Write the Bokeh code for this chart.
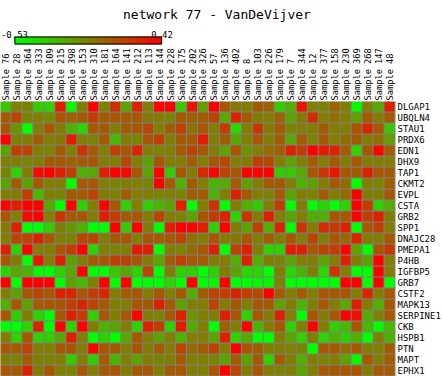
import numpy as np
from bokeh.plotting import figure
from bokeh.layouts import column
from bokeh.models import (FactorRange, LinearColorMapper, Range1d,
                          CategoricalAxis, ColumnDataSource)
from bokeh.core.properties import value
from bokeh.transform import dodge
from bokeh.embed import file_html
from bokeh.resources import INLINE

title_text = "network 77 - VanDeVijver"
vmin, vmax = -0.53, 0.42

samples = ["Sample 76", "Sample 28", "Sample 364", "Sample 333", "Sample 109", "Sample 215",
           "Sample 398", "Sample 153", "Sample 310", "Sample 181", "Sample 164", "Sample 141",
           "Sample 212", "Sample 113", "Sample 144", "Sample 228", "Sample 175", "Sample 202",
           "Sample 326", "Sample 57", "Sample 136", "Sample 402", "Sample 8", "Sample 103",
           "Sample 226", "Sample 179", "Sample 7", "Sample 344", "Sample 12", "Sample 377",
           "Sample 158", "Sample 230", "Sample 369", "Sample 268", "Sample 147", "Sample 48"]

genes = ["DLGAP1", "UBQLN4", "STAU1", "PRDX6", "EDN1", "DHX9", "TAP1", "CKMT2", "EVPL",
         "CSTA", "GRB2", "SPP1", "DNAJC28", "PMEPA1", "P4HB", "IGFBP5", "GRB7", "CSTF2",
         "MAPK13", "SERPINE1", "CKB", "HSPB1", "PTN", "MAPT", "EPHX1"]

values = [
    [-0.31, -0.05, -0.07, -0.34, -0.36, 0.32, -0.50, -0.05, 0.42, -0.07, 0.25, -0.19, 0.29, -0.05, 0.41, 0.42, -0.32, 0.34, -0.17, 0.42, 0.10, -0.03, -0.05, 0.08, 0.06, -0.34, -0.23, 0.34, -0.05, -0.07, 0.04, -0.05, -0.53, -0.05, -0.21, 0.30],
    [0.08, 0.17, -0.07, -0.05, -0.10, 0.10, 0.06, 0.08, 0.19, 0.08, 0.10, 0.08, 0.10, -0.03, -0.05, -0.07, 0.08, 0.06, 0.08, 0.17, -0.21, 0.29, 0.08, -0.03, -0.05, 0.06, -0.19, -0.03, 0.25, -0.05, 0.00, -0.05, -0.17, 0.08, -0.05, 0.10],
    [0.10, -0.14, -0.53, -0.05, 0.10, -0.05, -0.25, -0.38, 0.08, 0.08, -0.05, 0.08, 0.10, 0.15, -0.05, 0.08, 0.17, 0.00, 0.10, -0.05, 0.19, -0.38, -0.05, 0.21, -0.03, 0.08, -0.07, -0.05, -0.05, 0.08, -0.05, -0.05, 0.11, 0.29, 0.10, -0.32],
    [0.42, -0.07, -0.05, 0.08, -0.05, -0.03, 0.32, -0.05, -0.07, 0.08, -0.27, -0.05, -0.07, 0.10, 0.19, -0.05, 0.08, 0.10, 0.32, -0.05, 0.08, -0.19, -0.05, 0.10, -0.05, 0.08, -0.21, 0.08, -0.07, 0.08, -0.05, 0.02, 0.08, -0.05, 0.00, -0.17],
    [-0.19, 0.19, 0.17, -0.05, -0.07, 0.08, -0.05, 0.23, 0.08, -0.05, 0.19, 0.10, 0.29, -0.05, -0.07, -0.05, 0.08, 0.17, 0.10, -0.05, -0.19, 0.10, -0.12, -0.05, 0.02, 0.08, 0.30, 0.19, 0.42, 0.32, 0.29, 0.08, -0.36, 0.10, 0.41, 0.08],
    [-0.05, -0.05, -0.07, -0.05, 0.08, 0.08, 0.06, 0.08, 0.10, -0.05, -0.05, 0.15, -0.05, -0.19, 0.10, -0.05, -0.05, 0.08, -0.05, 0.10, 0.15, -0.05, -0.05, 0.19, 0.15, -0.05, -0.19, -0.05, 0.08, -0.05, 0.08, -0.05, 0.10, -0.05, -0.05, -0.05],
    [-0.07, -0.36, -0.05, 0.38, 0.42, 0.30, 0.19, -0.23, -0.21, 0.30, 0.42, 0.38, 0.10, -0.19, 0.42, -0.34, 0.10, -0.05, 0.27, 0.42, 0.17, 0.10, 0.42, 0.42, 0.41, -0.34, -0.32, -0.21, 0.10, 0.23, 0.34, 0.10, 0.08, 0.30, 0.10, 0.08],
    [-0.19, 0.08, -0.19, 0.08, -0.05, -0.05, -0.53, 0.08, 0.10, -0.05, -0.07, -0.05, -0.05, -0.07, 0.42, 0.08, -0.25, 0.08, -0.05, -0.25, -0.23, 0.08, -0.17, -0.05, 0.08, 0.10, -0.05, -0.25, -0.17, -0.05, 0.08, 0.02, -0.53, -0.05, -0.07, 0.08],
    [-0.05, -0.05, 0.19, -0.27, -0.05, -0.07, 0.08, 0.08, 0.17, -0.05, -0.07, 0.08, -0.05, -0.05, -0.07, -0.05, -0.07, 0.08, 0.08, -0.25, -0.05, 0.29, 0.08, -0.05, -0.07, 0.08, -0.19, -0.05, -0.05, 0.08, -0.05, 0.02, 0.42, -0.05, -0.05, 0.10],
    [0.42, 0.30, 0.42, 0.41, -0.21, -0.53, 0.42, -0.36, -0.05, 0.42, 0.08, -0.36, -0.05, -0.36, -0.25, -0.19, 0.32, -0.53, -0.05, 0.23, -0.53, -0.05, -0.23, -0.34, -0.05, 0.19, -0.53, -0.05, -0.53, -0.38, -0.53, -0.36, 0.42, 0.19, -0.36, -0.23],
    [0.08, -0.05, 0.38, 0.42, -0.05, 0.23, 0.08, 0.10, -0.05, 0.30, 0.19, 0.08, 0.10, -0.05, 0.17, -0.05, -0.07, -0.19, 0.10, 0.19, 0.29, -0.36, 0.23, -0.05, 0.30, -0.05, -0.19, -0.05, -0.23, -0.23, 0.10, 0.10, 0.42, 0.19, 0.30, -0.05],
    [-0.05, 0.30, -0.53, -0.53, -0.34, -0.05, -0.14, -0.25, -0.53, -0.53, 0.41, -0.34, 0.42, -0.05, -0.53, 0.30, 0.42, 0.41, 0.30, -0.36, 0.42, -0.05, -0.19, 0.19, -0.23, 0.29, -0.53, 0.23, -0.05, 0.25, 0.19, 0.30, -0.53, 0.10, 0.19, -0.05],
    [-0.05, 0.17, 0.17, 0.29, 0.10, -0.05, -0.07, 0.17, 0.17, -0.05, 0.08, 0.10, -0.05, 0.10, 0.08, 0.10, 0.17, 0.00, -0.05, 0.10, -0.05, -0.03, 0.10, -0.05, 0.08, -0.05, 0.10, -0.05, 0.17, -0.05, 0.10, 0.02, 0.29, -0.05, -0.05, 0.10],
    [0.30, -0.36, 0.42, -0.05, -0.05, 0.10, 0.19, 0.42, -0.36, -0.05, -0.07, -0.05, 0.32, 0.30, -0.53, -0.05, -0.07, 0.02, 0.10, 0.30, -0.53, 0.17, 0.30, -0.05, -0.36, -0.36, 0.32, 0.30, 0.10, 0.17, 0.19, 0.42, -0.19, -0.53, 0.10, 0.21],
    [0.10, -0.05, -0.53, 0.34, -0.05, 0.30, -0.19, -0.05, 0.08, 0.10, 0.19, 0.17, 0.10, -0.05, -0.19, 0.08, 0.19, 0.10, 0.08, -0.05, -0.05, -0.23, 0.30, -0.23, -0.05, -0.07, -0.19, -0.05, -0.05, -0.19, -0.05, 0.30, -0.05, -0.19, 0.42, -0.05],
    [-0.36, -0.19, -0.25, -0.53, -0.53, -0.36, -0.21, 0.42, -0.53, -0.53, -0.32, -0.21, -0.36, 0.17, -0.53, -0.05, -0.36, -0.36, -0.53, -0.36, -0.05, -0.19, -0.38, -0.38, -0.53, -0.05, -0.38, -0.25, -0.05, -0.38, 0.23, -0.05, -0.53, -0.53, 0.42, -0.05],
    [0.42, -0.53, 0.42, 0.42, 0.42, -0.53, -0.19, -0.27, -0.05, 0.42, -0.53, 0.42, -0.53, -0.53, -0.53, -0.38, -0.53, 0.42, -0.53, -0.50, 0.42, -0.53, -0.53, -0.50, -0.50, -0.05, -0.53, -0.53, -0.53, -0.53, -0.53, 0.42, 0.42, -0.53, 0.42, -0.53],
    [-0.05, -0.19, 0.10, 0.17, 0.10, 0.30, 0.29, 0.10, 0.19, 0.29, -0.05, 0.08, 0.10, -0.05, 0.10, -0.05, 0.10, -0.23, 0.08, 0.17, 0.19, 0.29, 0.19, 0.15, 0.42, 0.08, -0.05, 0.08, -0.05, 0.10, 0.08, 0.10, -0.05, 0.29, -0.05, 0.10],
    [-0.23, 0.10, -0.19, 0.08, 0.10, 0.10, 0.19, 0.29, 0.17, 0.08, -0.05, -0.05, 0.10, 0.08, 0.30, 0.08, -0.19, -0.05, -0.05, 0.17, -0.05, 0.10, -0.05, 0.10, 0.08, -0.19, -0.05, -0.25, -0.05, 0.10, -0.05, -0.21, 0.30, -0.05, -0.23, 0.10],
    [0.10, -0.34, -0.05, -0.36, -0.53, 0.10, 0.30, 0.19, -0.36, 0.10, -0.05, 0.10, 0.42, -0.05, -0.07, 0.10, 0.30, -0.14, -0.05, -0.05, 0.30, 0.10, -0.36, 0.10, -0.05, 0.30, -0.05, -0.53, 0.10, -0.05, 0.10, 0.42, 0.36, -0.23, -0.05, 0.10],
    [-0.53, -0.53, -0.36, 0.30, -0.53, 0.42, -0.36, 0.42, -0.05, -0.25, -0.19, -0.05, -0.36, 0.30, 0.19, -0.36, 0.32, -0.21, -0.05, -0.53, 0.06, -0.05, 0.42, -0.25, -0.05, 0.10, -0.36, -0.05, 0.42, -0.05, -0.36, -0.27, 0.10, -0.27, -0.53, -0.27],
    [-0.05, -0.36, 0.10, -0.36, -0.34, -0.21, 0.30, -0.05, -0.53, -0.36, -0.53, -0.21, 0.10, -0.05, -0.19, -0.05, -0.25, -0.05, -0.05, -0.19, 0.30, -0.36, -0.21, -0.53, -0.53, -0.05, -0.19, -0.36, -0.05, -0.36, -0.25, -0.36, -0.23, -0.53, -0.05, -0.25],
    [0.10, 0.08, 0.17, -0.05, -0.05, 0.08, 0.10, -0.05, 0.42, 0.10, 0.08, -0.05, 0.10, -0.05, 0.08, -0.05, 0.17, 0.02, 0.08, 0.17, -0.05, 0.42, 0.10, 0.08, -0.05, -0.05, -0.05, -0.07, -0.53, 0.10, 0.08, 0.02, 0.10, -0.05, -0.05, 0.08],
    [-0.05, -0.07, 0.08, -0.05, -0.07, -0.05, -0.34, -0.05, -0.34, 0.08, -0.25, -0.05, -0.19, -0.05, -0.07, -0.05, 0.08, -0.05, -0.05, -0.07, -0.19, 0.08, -0.19, 0.10, -0.36, 0.08, -0.05, -0.23, -0.05, -0.07, -0.05, -0.19, -0.50, 0.10, -0.05, 0.08],
    [0.10, 0.08, 0.29, -0.05, 0.10, -0.05, -0.07, 0.10, -0.05, 0.08, 0.10, -0.05, 0.08, 0.10, -0.05, 0.08, 0.10, -0.05, -0.05, 0.10, 0.42, 0.17, -0.05, 0.10, -0.05, -0.07, -0.05, -0.19, -0.05, 0.10, 0.08, 0.10, 0.11, -0.05, 0.10, 0.08],
]

mono = "DejaVu Sans Mono"

# green -> red palette
palette = ["#%02x%02x00" % (i, 255 - i) for i in range(256)]
mapper = LinearColorMapper(palette=palette, low=vmin, high=vmax)

# In a column Bokeh aligns the frames of both plots, so the top strip's
# frame has the heat map's frame width.
FRAME_W = 36 * 11
TOP_H = 45

# ---------------- top strip: title + colour key ----------------
BAR_L, BAR_W = 14, 148          # colour key position / length in pixels
k = (vmax - vmin) / BAR_W       # value units per pixel
top = figure(width=443, height=TOP_H,
             x_range=Range1d(vmin - BAR_L * k, vmin + (FRAME_W - BAR_L) * k),
             y_range=Range1d(0, TOP_H),
             x_axis_location=None, y_axis_location=None,
             toolbar_location=None, output_backend="svg",
             min_border_left=0, min_border_right=443 - FRAME_W,
             min_border_top=0, min_border_bottom=0)
top.extra_x_ranges = {"px": Range1d(0, FRAME_W)}
top.outline_line_color = None
top.background_fill_color = "white"
top.border_fill_color = "white"
for gr in top.grid:
    gr.grid_line_color = None

top.image(image=[np.linspace(vmin, vmax, 256)[None, :]], x=vmin, y=1,
          dw=vmax - vmin, dh=8, color_mapper=mapper)
top.quad(left=[vmin + 0.5 * k], right=[vmax - 0.5 * k], bottom=[1.5], top=[8.5],
         fill_color=None, line_color="black", line_width=1)
top.text(x=[vmin, vmax], y=[11.5, 11.5], text=["%.2f" % vmin, "%.2f" % vmax],
         text_align="center", text_baseline="alphabetic",
         text_font=value(mono), text_font_size=value("9px"), text_color="black")
top.text(x=[217], y=[31.5], text=[title_text], x_range_name="px",
         text_align="center", text_baseline="alphabetic",
         text_font=value(mono), text_font_size=value("13px"), text_color="black")

# ---------------- heat map ----------------
xs, ys, vs = [], [], []
for gi, g in enumerate(genes):
    for si, s in enumerate(samples):
        xs.append(s)
        ys.append(g)
        vs.append(values[gi][si])
src = ColumnDataSource(dict(x=xs, y=ys, v=vs))

p = figure(width=443, height=376 - TOP_H,
           x_range=FactorRange(*samples), y_range=FactorRange(*genes[::-1]),
           x_axis_location=None, y_axis_location=None,
           toolbar_location=None, output_backend="svg",
           min_border_left=0, min_border_right=443 - FRAME_W, min_border_top=101 - TOP_H,
           min_border_bottom=0)
p.background_fill_color = "#808080"
p.border_fill_color = "white"
p.outline_line_color = None
for gr in p.grid:
    gr.grid_line_color = None

p.rect(x=dodge("x", -1 / 22, range=p.x_range), y=dodge("y", 1 / 22, range=p.y_range),
       width=10 / 11, height=10 / 11, source=src,
       fill_color={"field": "v", "transform": mapper}, line_color=None)

ax_top = CategoricalAxis(major_label_orientation=np.pi / 2,
                         major_label_text_font=mono, major_label_text_font_size="8.7px",
                         major_label_text_color="black",
                         axis_line_color=None, major_tick_line_color=None,
                         major_tick_in=0, major_tick_out=0, major_label_standoff=1)
p.add_layout(ax_top, "above")
ax_right = CategoricalAxis(major_label_orientation="horizontal",
                           major_label_text_font=mono, major_label_text_font_size="9px",
                           major_label_text_color="black",
                           axis_line_color=None, major_tick_line_color=None,
                           major_tick_in=0, major_tick_out=0, major_label_standoff=2)
p.add_layout(ax_right, "right")

layout = column(top, p, spacing=0)
open("out.html", "w").write(file_html(layout, INLINE))
